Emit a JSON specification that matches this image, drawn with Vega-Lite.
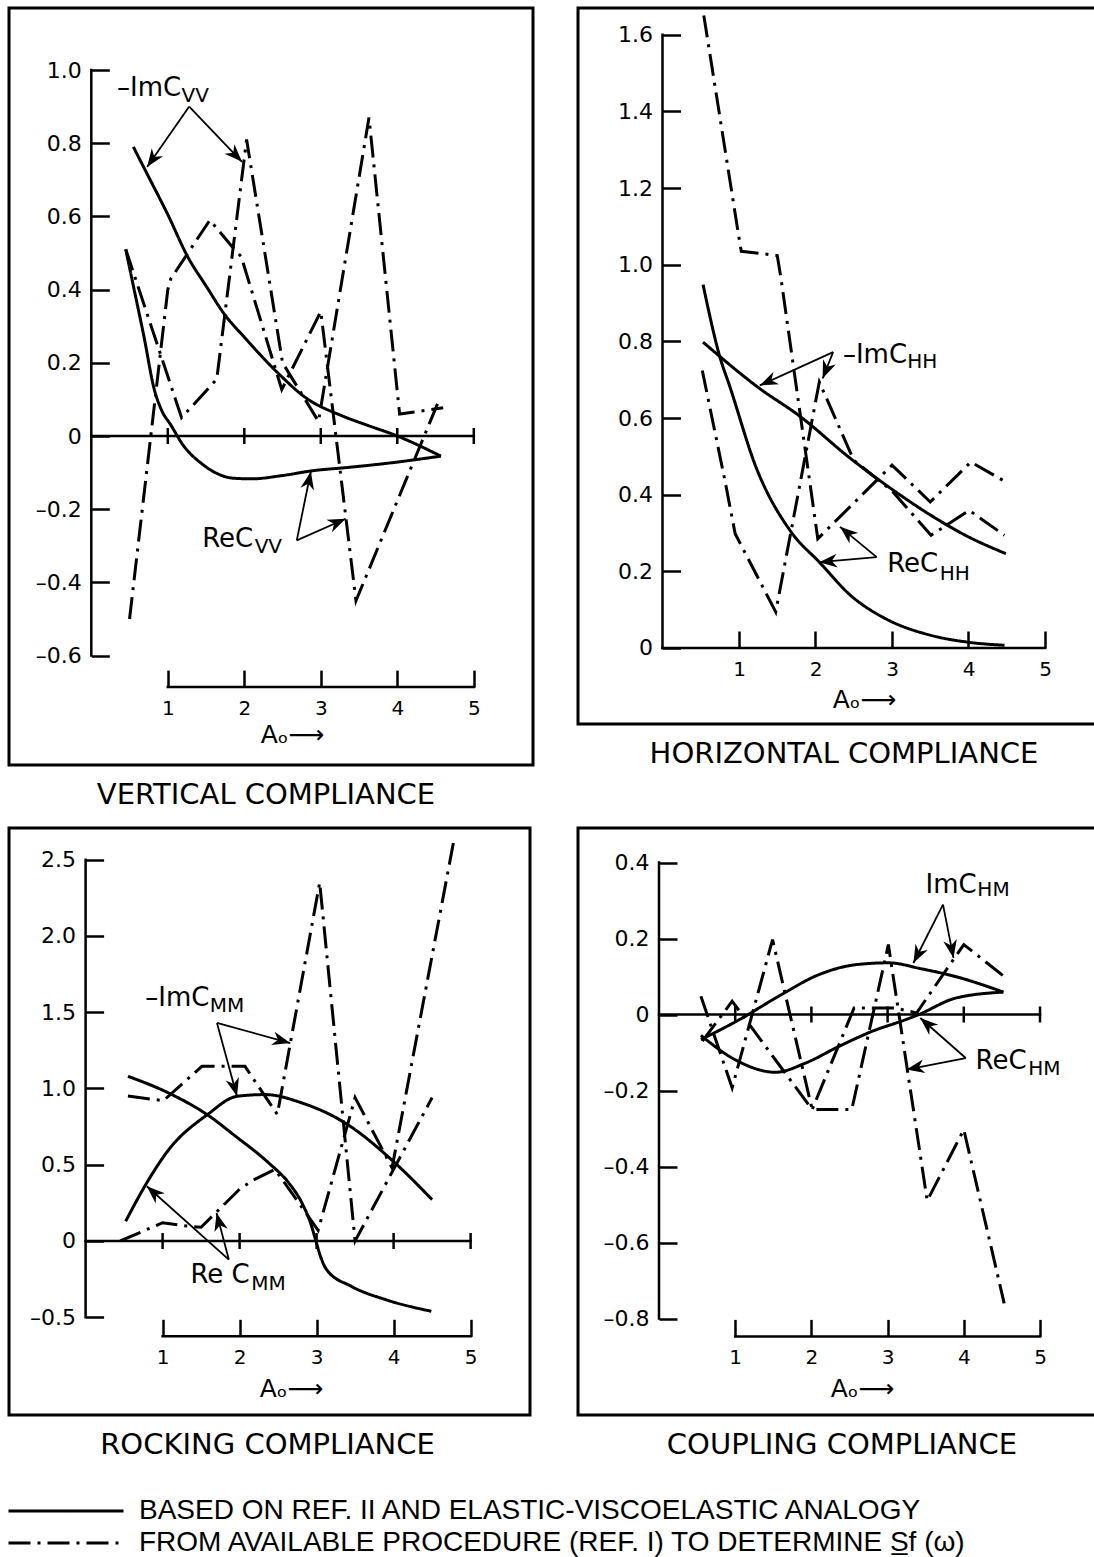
{
  "$schema": "https://vega.github.io/schema/vega-lite/v6.json",
  "background": "white",
  "padding": {"left": 7, "top": 6, "right": 0, "bottom": 0},
  "config": {
    "font": "DejaVu Sans",
    "view": {"stroke": "black", "strokeWidth": 3},
    "line": {"color": "black", "strokeWidth": 3},
    "rule": {"color": "black"},
    "text": {"color": "black"},
    "axis": {
      "grid": false, "domain": false, "tickColor": "black", "tickWidth": 2.5,
      "labelColor": "black", "labelFont": "DejaVu Sans", "labelFontSize": 22,
      "labelFlush": false, "labelOverlap": false, "labelBound": false,
      "titleColor": "black", "titleFont": "DejaVu Sans", "titleFontSize": 25, "titleFontWeight": "normal"
    },
    "title": {"font": "DejaVu Sans", "fontSize": 29, "fontWeight": "normal", "orient": "bottom", "offset": 16, "color": "black", "anchor": "middle"},
    "legend": {
      "orient": "none", "direction": "vertical", "symbolType": "stroke", "symbolSize": 13225,
      "symbolStrokeWidth": 3, "symbolStrokeColor": "black", "clipHeight": 30, "rowPadding": 2,
      "labelFont": "Liberation Sans", "labelFontSize": 28, "labelLimit": 1200, "labelOffset": 14,
      "labelColor": "black", "padding": 0
    }
  },
  "datasets": {
    "curves": [
      {"panel":"V","curve":"ImVV","method":"analogy","Ao":0.55,"C":0.79},
      {"panel":"V","curve":"ImVV","method":"analogy","Ao":0.72,"C":0.72},
      {"panel":"V","curve":"ImVV","method":"analogy","Ao":1.0,"C":0.605},
      {"panel":"V","curve":"ImVV","method":"analogy","Ao":1.26,"C":0.49},
      {"panel":"V","curve":"ImVV","method":"analogy","Ao":1.5,"C":0.41},
      {"panel":"V","curve":"ImVV","method":"analogy","Ao":1.75,"C":0.33},
      {"panel":"V","curve":"ImVV","method":"analogy","Ao":2.0,"C":0.27},
      {"panel":"V","curve":"ImVV","method":"analogy","Ao":2.45,"C":0.17},
      {"panel":"V","curve":"ImVV","method":"analogy","Ao":2.8,"C":0.105},
      {"panel":"V","curve":"ImVV","method":"analogy","Ao":3.28,"C":0.055},
      {"panel":"V","curve":"ImVV","method":"analogy","Ao":3.6,"C":0.03},
      {"panel":"V","curve":"ImVV","method":"analogy","Ao":4.0,"C":0.0},
      {"panel":"V","curve":"ImVV","method":"analogy","Ao":4.57,"C":-0.055},
      {"panel":"V","curve":"ReVV","method":"analogy","Ao":0.45,"C":0.51},
      {"panel":"V","curve":"ReVV","method":"analogy","Ao":0.57,"C":0.39},
      {"panel":"V","curve":"ReVV","method":"analogy","Ao":0.69,"C":0.27},
      {"panel":"V","curve":"ReVV","method":"analogy","Ao":0.82,"C":0.13},
      {"panel":"V","curve":"ReVV","method":"analogy","Ao":0.92,"C":0.07},
      {"panel":"V","curve":"ReVV","method":"analogy","Ao":1.04,"C":0.03},
      {"panel":"V","curve":"ReVV","method":"analogy","Ao":1.2,"C":-0.025},
      {"panel":"V","curve":"ReVV","method":"analogy","Ao":1.44,"C":-0.075},
      {"panel":"V","curve":"ReVV","method":"analogy","Ao":1.65,"C":-0.103},
      {"panel":"V","curve":"ReVV","method":"analogy","Ao":1.84,"C":-0.115},
      {"panel":"V","curve":"ReVV","method":"analogy","Ao":2.1,"C":-0.117},
      {"panel":"V","curve":"ReVV","method":"analogy","Ao":2.5,"C":-0.108},
      {"panel":"V","curve":"ReVV","method":"analogy","Ao":2.89,"C":-0.095},
      {"panel":"V","curve":"ReVV","method":"analogy","Ao":3.4,"C":-0.085},
      {"panel":"V","curve":"ReVV","method":"analogy","Ao":3.85,"C":-0.075},
      {"panel":"V","curve":"ReVV","method":"analogy","Ao":4.57,"C":-0.055},
      {"panel":"V","curve":"ImVV","method":"procedure","Ao":0.45,"C":0.51},
      {"panel":"V","curve":"ImVV","method":"procedure","Ao":1.18,"C":0.05},
      {"panel":"V","curve":"ImVV","method":"procedure","Ao":1.64,"C":0.155},
      {"panel":"V","curve":"ImVV","method":"procedure","Ao":2.03,"C":0.81},
      {"panel":"V","curve":"ImVV","method":"procedure","Ao":2.5,"C":0.2},
      {"panel":"V","curve":"ImVV","method":"procedure","Ao":2.97,"C":0.04},
      {"panel":"V","curve":"ImVV","method":"procedure","Ao":3.63,"C":0.87},
      {"panel":"V","curve":"ImVV","method":"procedure","Ao":4.03,"C":0.06},
      {"panel":"V","curve":"ImVV","method":"procedure","Ao":4.6,"C":0.077},
      {"panel":"V","curve":"ReVV","method":"procedure","Ao":0.5,"C":-0.5},
      {"panel":"V","curve":"ReVV","method":"procedure","Ao":1.0,"C":0.4},
      {"panel":"V","curve":"ReVV","method":"procedure","Ao":1.04,"C":0.43},
      {"panel":"V","curve":"ReVV","method":"procedure","Ao":1.55,"C":0.59},
      {"panel":"V","curve":"ReVV","method":"procedure","Ao":1.83,"C":0.52},
      {"panel":"V","curve":"ReVV","method":"procedure","Ao":1.96,"C":0.49},
      {"panel":"V","curve":"ReVV","method":"procedure","Ao":2.49,"C":0.127},
      {"panel":"V","curve":"ReVV","method":"procedure","Ao":3.0,"C":0.34},
      {"panel":"V","curve":"ReVV","method":"procedure","Ao":3.46,"C":-0.45},
      {"panel":"V","curve":"ReVV","method":"procedure","Ao":4.55,"C":0.1},

      {"panel":"H","curve":"ImHH","method":"analogy","Ao":0.53,"C":0.798},
      {"panel":"H","curve":"ImHH","method":"analogy","Ao":1.27,"C":0.677},
      {"panel":"H","curve":"ImHH","method":"analogy","Ao":1.78,"C":0.607},
      {"panel":"H","curve":"ImHH","method":"analogy","Ao":2.46,"C":0.494},
      {"panel":"H","curve":"ImHH","method":"analogy","Ao":3.05,"C":0.407},
      {"panel":"H","curve":"ImHH","method":"analogy","Ao":3.51,"C":0.346},
      {"panel":"H","curve":"ImHH","method":"analogy","Ao":3.96,"C":0.294},
      {"panel":"H","curve":"ImHH","method":"analogy","Ao":4.49,"C":0.246},
      {"panel":"H","curve":"ReHH","method":"analogy","Ao":0.53,"C":0.948},
      {"panel":"H","curve":"ReHH","method":"analogy","Ao":0.77,"C":0.746},
      {"panel":"H","curve":"ReHH","method":"analogy","Ao":0.86,"C":0.694},
      {"panel":"H","curve":"ReHH","method":"analogy","Ao":1.23,"C":0.468},
      {"panel":"H","curve":"ReHH","method":"analogy","Ao":1.68,"C":0.303},
      {"panel":"H","curve":"ReHH","method":"analogy","Ao":2.05,"C":0.224},
      {"panel":"H","curve":"ReHH","method":"analogy","Ao":2.46,"C":0.137},
      {"panel":"H","curve":"ReHH","method":"analogy","Ao":2.92,"C":0.076},
      {"panel":"H","curve":"ReHH","method":"analogy","Ao":3.51,"C":0.033},
      {"panel":"H","curve":"ReHH","method":"analogy","Ao":3.96,"C":0.016},
      {"panel":"H","curve":"ReHH","method":"analogy","Ao":4.47,"C":0.007},
      {"panel":"H","curve":"ImHH","method":"procedure","Ao":0.52,"C":0.724},
      {"panel":"H","curve":"ImHH","method":"procedure","Ao":0.82,"C":0.433},
      {"panel":"H","curve":"ImHH","method":"procedure","Ao":0.95,"C":0.298},
      {"panel":"H","curve":"ImHH","method":"procedure","Ao":1.48,"C":0.094},
      {"panel":"H","curve":"ImHH","method":"procedure","Ao":2.05,"C":0.694},
      {"panel":"H","curve":"ImHH","method":"procedure","Ao":2.5,"C":0.49},
      {"panel":"H","curve":"ImHH","method":"procedure","Ao":3.0,"C":0.41},
      {"panel":"H","curve":"ImHH","method":"procedure","Ao":3.51,"C":0.294},
      {"panel":"H","curve":"ImHH","method":"procedure","Ao":4.01,"C":0.359},
      {"panel":"H","curve":"ImHH","method":"procedure","Ao":4.47,"C":0.294},
      {"panel":"H","curve":"ReHH","method":"procedure","Ao":0.54,"C":1.65},
      {"panel":"H","curve":"ReHH","method":"procedure","Ao":1.0,"C":1.07},
      {"panel":"H","curve":"ReHH","method":"procedure","Ao":1.03,"C":1.035},
      {"panel":"H","curve":"ReHH","method":"procedure","Ao":1.5,"C":1.024},
      {"panel":"H","curve":"ReHH","method":"procedure","Ao":1.55,"C":0.963},
      {"panel":"H","curve":"ReHH","method":"procedure","Ao":2.03,"C":0.285},
      {"panel":"H","curve":"ReHH","method":"procedure","Ao":3.0,"C":0.477},
      {"panel":"H","curve":"ReHH","method":"procedure","Ao":3.5,"C":0.381},
      {"panel":"H","curve":"ReHH","method":"procedure","Ao":4.03,"C":0.485},
      {"panel":"H","curve":"ReHH","method":"procedure","Ao":4.49,"C":0.433},

      {"panel":"M","curve":"ReMM","method":"analogy","Ao":0.55,"C":1.08},
      {"panel":"M","curve":"ReMM","method":"analogy","Ao":1.08,"C":0.97},
      {"panel":"M","curve":"ReMM","method":"analogy","Ao":1.58,"C":0.828},
      {"panel":"M","curve":"ReMM","method":"analogy","Ao":1.95,"C":0.686},
      {"panel":"M","curve":"ReMM","method":"analogy","Ao":2.38,"C":0.511},
      {"panel":"M","curve":"ReMM","method":"analogy","Ao":2.64,"C":0.38},
      {"panel":"M","curve":"ReMM","method":"analogy","Ao":2.81,"C":0.249},
      {"panel":"M","curve":"ReMM","method":"analogy","Ao":2.92,"C":0.12},
      {"panel":"M","curve":"ReMM","method":"analogy","Ao":2.98,"C":0.02},
      {"panel":"M","curve":"ReMM","method":"analogy","Ao":3.05,"C":-0.1},
      {"panel":"M","curve":"ReMM","method":"analogy","Ao":3.13,"C":-0.188},
      {"panel":"M","curve":"ReMM","method":"analogy","Ao":3.45,"C":-0.297},
      {"panel":"M","curve":"ReMM","method":"analogy","Ao":3.9,"C":-0.385},
      {"panel":"M","curve":"ReMM","method":"analogy","Ao":4.49,"C":-0.461},
      {"panel":"M","curve":"ImMM","method":"analogy","Ao":0.52,"C":0.129},
      {"panel":"M","curve":"ImMM","method":"analogy","Ao":0.78,"C":0.369},
      {"panel":"M","curve":"ImMM","method":"analogy","Ao":1.08,"C":0.599},
      {"panel":"M","curve":"ImMM","method":"analogy","Ao":1.58,"C":0.828},
      {"panel":"M","curve":"ImMM","method":"analogy","Ao":1.97,"C":0.949},
      {"panel":"M","curve":"ImMM","method":"analogy","Ao":2.33,"C":0.96},
      {"panel":"M","curve":"ImMM","method":"analogy","Ao":2.81,"C":0.905},
      {"panel":"M","curve":"ImMM","method":"analogy","Ao":3.37,"C":0.774},
      {"panel":"M","curve":"ImMM","method":"analogy","Ao":4.02,"C":0.511},
      {"panel":"M","curve":"ImMM","method":"analogy","Ao":4.5,"C":0.271},
      {"panel":"M","curve":"ReMM","method":"procedure","Ao":0.45,"C":0.0},
      {"panel":"M","curve":"ReMM","method":"procedure","Ao":1.0,"C":0.12},
      {"panel":"M","curve":"ReMM","method":"procedure","Ao":1.27,"C":0.1},
      {"panel":"M","curve":"ReMM","method":"procedure","Ao":1.5,"C":0.09},
      {"panel":"M","curve":"ReMM","method":"procedure","Ao":1.68,"C":0.18},
      {"panel":"M","curve":"ReMM","method":"procedure","Ao":2.0,"C":0.34},
      {"panel":"M","curve":"ReMM","method":"procedure","Ao":2.18,"C":0.4},
      {"panel":"M","curve":"ReMM","method":"procedure","Ao":2.46,"C":0.47},
      {"panel":"M","curve":"ReMM","method":"procedure","Ao":3.02,"C":0.07},
      {"panel":"M","curve":"ReMM","method":"procedure","Ao":3.5,"C":0.94},
      {"panel":"M","curve":"ReMM","method":"procedure","Ao":3.98,"C":0.48},
      {"panel":"M","curve":"ReMM","method":"procedure","Ao":4.78,"C":2.62},
      {"panel":"M","curve":"ImMM","method":"procedure","Ao":0.55,"C":0.95},
      {"panel":"M","curve":"ImMM","method":"procedure","Ao":1.01,"C":0.92},
      {"panel":"M","curve":"ImMM","method":"procedure","Ao":1.51,"C":1.145},
      {"panel":"M","curve":"ImMM","method":"procedure","Ao":2.07,"C":1.145},
      {"panel":"M","curve":"ImMM","method":"procedure","Ao":2.49,"C":0.83},
      {"panel":"M","curve":"ImMM","method":"procedure","Ao":3.04,"C":2.35},
      {"panel":"M","curve":"ImMM","method":"procedure","Ao":3.5,"C":0.0},
      {"panel":"M","curve":"ImMM","method":"procedure","Ao":4.5,"C":0.94},

      {"panel":"HM","curve":"ImHM","method":"analogy","Ao":0.55,"C":-0.066},
      {"panel":"HM","curve":"ImHM","method":"analogy","Ao":1.05,"C":-0.014},
      {"panel":"HM","curve":"ImHM","method":"analogy","Ao":1.57,"C":0.048},
      {"panel":"HM","curve":"ImHM","method":"analogy","Ao":2.1,"C":0.105},
      {"panel":"HM","curve":"ImHM","method":"analogy","Ao":2.58,"C":0.131},
      {"panel":"HM","curve":"ImHM","method":"analogy","Ao":3.01,"C":0.136},
      {"panel":"HM","curve":"ImHM","method":"analogy","Ao":3.45,"C":0.12},
      {"panel":"HM","curve":"ImHM","method":"analogy","Ao":3.89,"C":0.1},
      {"panel":"HM","curve":"ImHM","method":"analogy","Ao":4.52,"C":0.059},
      {"panel":"HM","curve":"ReHM","method":"analogy","Ao":0.55,"C":-0.055},
      {"panel":"HM","curve":"ReHM","method":"analogy","Ao":1.0,"C":-0.119},
      {"panel":"HM","curve":"ReHM","method":"analogy","Ao":1.53,"C":-0.152},
      {"panel":"HM","curve":"ReHM","method":"analogy","Ao":1.92,"C":-0.128},
      {"panel":"HM","curve":"ReHM","method":"analogy","Ao":2.36,"C":-0.084},
      {"panel":"HM","curve":"ReHM","method":"analogy","Ao":2.8,"C":-0.044},
      {"panel":"HM","curve":"ReHM","method":"analogy","Ao":3.23,"C":-0.014},
      {"panel":"HM","curve":"ReHM","method":"analogy","Ao":3.41,"C":0.0},
      {"panel":"HM","curve":"ReHM","method":"analogy","Ao":3.89,"C":0.043},
      {"panel":"HM","curve":"ReHM","method":"analogy","Ao":4.52,"C":0.059},
      {"panel":"HM","curve":"ImHM","method":"procedure","Ao":0.57,"C":-0.07},
      {"panel":"HM","curve":"ImHM","method":"procedure","Ao":0.96,"C":0.035},
      {"panel":"HM","curve":"ImHM","method":"procedure","Ao":2.01,"C":-0.25},
      {"panel":"HM","curve":"ImHM","method":"procedure","Ao":2.56,"C":0.017},
      {"panel":"HM","curve":"ImHM","method":"procedure","Ao":3.1,"C":0.017},
      {"panel":"HM","curve":"ImHM","method":"procedure","Ao":3.38,"C":0.004},
      {"panel":"HM","curve":"ImHM","method":"procedure","Ao":4.0,"C":0.184},
      {"panel":"HM","curve":"ImHM","method":"procedure","Ao":4.53,"C":0.1},
      {"panel":"HM","curve":"ReHM","method":"procedure","Ao":0.55,"C":0.048},
      {"panel":"HM","curve":"ReHM","method":"procedure","Ao":0.96,"C":-0.193},
      {"panel":"HM","curve":"ReHM","method":"procedure","Ao":1.49,"C":0.197},
      {"panel":"HM","curve":"ReHM","method":"procedure","Ao":2.01,"C":-0.25},
      {"panel":"HM","curve":"ReHM","method":"procedure","Ao":2.53,"C":-0.25},
      {"panel":"HM","curve":"ReHM","method":"procedure","Ao":3.01,"C":0.184},
      {"panel":"HM","curve":"ReHM","method":"procedure","Ao":3.52,"C":-0.49},
      {"panel":"HM","curve":"ReHM","method":"procedure","Ao":4.0,"C":-0.303},
      {"panel":"HM","curve":"ReHM","method":"procedure","Ao":4.53,"C":-0.76}
    ],
    "guides": [
      {"panel":"V","Ao":0,"Ao2":0,"C":-0.6,"C2":1.0},
      {"panel":"V","Ao":0,"Ao2":5,"C":0,"C2":0},
      {"panel":"V","Ao":1,"Ao2":5,"C":-0.686,"C2":-0.686},
      {"panel":"H","Ao":0,"Ao2":0,"C":0,"C2":1.6},
      {"panel":"H","Ao":0,"Ao2":5,"C":0,"C2":0},
      {"panel":"M","Ao":0,"Ao2":0,"C":-0.5,"C2":2.5},
      {"panel":"M","Ao":0,"Ao2":5,"C":0,"C2":0},
      {"panel":"M","Ao":1,"Ao2":5,"C":-0.625,"C2":-0.625},
      {"panel":"HM","Ao":0,"Ao2":0,"C":-0.8,"C2":0.4},
      {"panel":"HM","Ao":0,"Ao2":5,"C":0,"C2":0},
      {"panel":"HM","Ao":1,"Ao2":5,"C":-0.847,"C2":-0.847}
    ],
    "zeroTicks": [
      {"panel":"V","Ao":1},{"panel":"V","Ao":2},{"panel":"V","Ao":3},{"panel":"V","Ao":4},{"panel":"V","Ao":5},
      {"panel":"M","Ao":1},{"panel":"M","Ao":2},{"panel":"M","Ao":3},{"panel":"M","Ao":4},{"panel":"M","Ao":5},
      {"panel":"HM","Ao":1},{"panel":"HM","Ao":2},{"panel":"HM","Ao":3},{"panel":"HM","Ao":4},{"panel":"HM","Ao":5}
    ],
    "arrows": [
      {"panel":"V","fromAo":1.28,"fromC":0.9,"toAo":0.729,"toC":0.735,"dir":-145},
      {"panel":"V","fromAo":1.28,"fromC":0.9,"toAo":1.97,"toC":0.749,"dir":136},
      {"panel":"V","fromAo":2.686,"fromC":-0.285,"toAo":2.87,"toC":-0.097,"dir":11.5},
      {"panel":"V","fromAo":2.686,"fromC":-0.285,"toAo":3.325,"toC":-0.226,"dir":66},
      {"panel":"H","fromAo":2.23,"fromC":0.772,"toAo":1.272,"toC":0.685,"dir":-114},
      {"panel":"H","fromAo":2.23,"fromC":0.772,"toAo":2.093,"toC":0.703,"dir":-158},
      {"panel":"H","fromAo":2.8,"fromC":0.237,"toAo":2.32,"toC":0.316,"dir":-50.5},
      {"panel":"H","fromAo":2.8,"fromC":0.237,"toAo":2.048,"toC":0.224,"dir":-95},
      {"panel":"M","fromAo":1.706,"fromC":1.43,"toAo":2.658,"toC":1.298,"dir":105},
      {"panel":"M","fromAo":1.706,"fromC":1.43,"toAo":1.966,"toC":0.949,"dir":165},
      {"panel":"M","fromAo":1.86,"fromC":-0.122,"toAo":0.795,"toC":0.359,"dir":-48},
      {"panel":"M","fromAo":1.86,"fromC":-0.122,"toAo":1.701,"toC":0.184,"dir":-14.6},
      {"panel":"HM","fromAo":3.727,"fromC":0.289,"toAo":3.339,"toC":0.1355,"dir":-153},
      {"panel":"HM","fromAo":3.727,"fromC":0.289,"toAo":3.865,"toC":0.149,"dir":169},
      {"panel":"HM","fromAo":4.025,"fromC":-0.1145,"toAo":3.429,"toC":-0.0092,"dir":-48.6},
      {"panel":"HM","fromAo":4.025,"fromC":-0.1145,"toAo":3.247,"toC":-0.145,"dir":-101}
    ],
    "notes": [
      {"panel":"V","role":"main","text":"–ImC","Ao":0.336,"C":0.952},
      {"panel":"V","role":"sub","text":"VV","Ao":1.18,"C":0.928},
      {"panel":"V","role":"main","text":"ReC","Ao":1.45,"C":-0.281},
      {"panel":"V","role":"sub","text":"VV","Ao":2.135,"C":-0.303},
      {"panel":"H","role":"main","text":"–ImC","Ao":2.358,"C":0.764},
      {"panel":"H","role":"sub","text":"HH","Ao":3.2,"C":0.745},
      {"panel":"H","role":"main","text":"ReC","Ao":2.937,"C":0.22},
      {"panel":"H","role":"sub","text":"HH","Ao":3.625,"C":0.194},
      {"panel":"M","role":"main","text":"–ImC","Ao":0.775,"C":1.593},
      {"panel":"M","role":"sub","text":"MM","Ao":1.612,"C":1.543},
      {"panel":"M","role":"main","text":"Re C","Ao":1.361,"C":-0.221},
      {"panel":"M","role":"sub","text":"MM","Ao":2.152,"C":-0.28},
      {"panel":"HM","role":"main","text":"ImC","Ao":3.499,"C":0.342},
      {"panel":"HM","role":"sub","text":"HM","Ao":4.178,"C":0.327},
      {"panel":"HM","role":"main","text":"ReC","Ao":4.154,"C":-0.123},
      {"panel":"HM","role":"sub","text":"HM","Ao":4.845,"C":-0.143}
    ]
  },
  "vconcat": [
    {
      "spacing": 41,
      "hconcat": [
        {
          "width": 524, "height": 757,
          "title": {"text": "VERTICAL COMPLIANCE", "dx": -5},
          "layer": [
            {
              "data": {"name": "curves"},
              "transform": [{"filter": "datum.panel === 'V' && datum.method === 'analogy'"}],
              "mark": {"type": "line", "interpolate": "monotone"},
              "encoding": {
                "x": {"field": "Ao", "type": "quantitative",
                  "scale": {"domain": [-1.0758, 5.7739], "nice": false, "zero": false},
                  "axis": {"values": [1,2,3,4,5], "format": "d", "offset": -77.9, "tickSize": -17, "labelPadding": 28, "labelFontSize": 20,
                    "title": "Aₒ⟶", "titleX": 283, "titleY": 47, "titleAlign": "center", "titleBaseline": "middle"}},
                "y": {"field": "C", "type": "quantitative",
                  "scale": {"domain": [-0.8989, 1.1694], "nice": false, "zero": false},
                  "axis": {"values": [-0.6,-0.4,-0.2,0,0.2,0.4,0.6,0.8,1.0], "offset": -82.3, "tickSize": -18, "labelPadding": 28, "title": null,
                    "labelExpr": "datum.value == 0 ? '0' : (datum.value < 0 ? '–' : '') + format(abs(datum.value), '.1f')"}},
                "detail": {"field": "curve", "type": "nominal"},
                "strokeDash": {"field": "method", "type": "nominal",
                  "scale": {"domain": ["analogy", "procedure"], "range": [[1, 0], [22, 7, 3, 7]]},
                  "legend": {"title": null, "orient": "none", "legendX": -2, "legendY": 1488,
                    "labelExpr": "datum.value === 'analogy' ? 'BASED ON REF. II AND ELASTIC-VISCOELASTIC ANALOGY' : 'FROM AVAILABLE PROCEDURE (REF. I) TO DETERMINE S̲f (ω)'"}}
              }
            },
            {
              "data": {"name": "curves"},
              "transform": [{"filter": "datum.panel === 'V' && datum.method === 'procedure'"}],
              "mark": {"type": "line"},
              "encoding": {
                "x": {"field": "Ao", "type": "quantitative"},
                "y": {"field": "C", "type": "quantitative"},
                "detail": {"field": "curve", "type": "nominal"},
                "strokeDash": {"field": "method", "type": "nominal"}
              }
            },
            {
              "data": {"name": "guides"},
              "transform": [{"filter": "datum.panel === 'V'"}],
              "mark": {"type": "rule", "strokeWidth": 2.5, "strokeCap": "square"},
              "encoding": {
                "x": {"field": "Ao", "type": "quantitative"}, "x2": {"field": "Ao2"},
                "y": {"field": "C", "type": "quantitative"}, "y2": {"field": "C2"}
              }
            },
            {
              "data": {"name": "zeroTicks"},
              "transform": [{"filter": "datum.panel === 'V'"}],
              "mark": {"type": "rule", "strokeWidth": 2.5, "yOffset": 8, "y2Offset": -8},
              "encoding": {
                "x": {"field": "Ao", "type": "quantitative"},
                "y": {"datum": 0, "type": "quantitative"}, "y2": {"datum": 0}
              }
            },
            {
              "data": {"name": "arrows"},
              "transform": [{"filter": "datum.panel === 'V'"}],
              "mark": {"type": "rule", "strokeWidth": 1.8},
              "encoding": {
                "x": {"field": "fromAo", "type": "quantitative"}, "x2": {"field": "toAo"},
                "y": {"field": "fromC", "type": "quantitative"}, "y2": {"field": "toC"}
              }
            },
            {
              "data": {"name": "arrows"},
              "transform": [{"filter": "datum.panel === 'V'"}],
              "mark": {"type": "point", "shape": "M0,0L-0.38,1L0,0.7L0.38,1Z", "filled": true, "size": 1300, "color": "black", "opacity": 1},
              "encoding": {
                "x": {"field": "toAo", "type": "quantitative"},
                "y": {"field": "toC", "type": "quantitative"},
                "angle": {"field": "dir", "type": "quantitative", "scale": null}
              }
            },
            {
              "data": {"name": "notes"},
              "transform": [{"filter": "datum.panel === 'V' && datum.role === 'main'"}],
              "mark": {"type": "text", "align": "left", "baseline": "middle", "fontSize": 26},
              "encoding": {
                "x": {"field": "Ao", "type": "quantitative"},
                "y": {"field": "C", "type": "quantitative"},
                "text": {"field": "text"}
              }
            },
            {
              "data": {"name": "notes"},
              "transform": [{"filter": "datum.panel === 'V' && datum.role === 'sub'"}],
              "mark": {"type": "text", "align": "left", "baseline": "middle", "fontSize": 20},
              "encoding": {
                "x": {"field": "Ao", "type": "quantitative"},
                "y": {"field": "C", "type": "quantitative"},
                "text": {"field": "text"}
              }
            }
          ]
        },
        {
          "width": 518, "height": 716,
          "title": {"text": "HORIZONTAL COMPLIANCE", "dx": 7},
          "layer": [
            {
              "data": {"name": "curves"},
              "transform": [{"filter": "datum.panel === 'H' && datum.method === 'analogy'"}],
              "mark": {"type": "line", "interpolate": "monotone"},
              "encoding": {
                "x": {"field": "Ao", "type": "quantitative",
                  "scale": {"domain": [-1.1046, 5.6667], "nice": false, "zero": false},
                  "axis": {"values": [1,2,3,4,5], "format": "d", "offset": -76, "tickSize": -17, "labelPadding": 28, "labelFontSize": 20,
                    "title": "Aₒ⟶", "titleX": 286, "titleY": 51, "titleAlign": "center", "titleBaseline": "middle"}},
                "y": {"field": "C", "type": "quantitative",
                  "scale": {"domain": [-0.1983, 1.6697], "nice": false, "zero": false},
                  "axis": {"values": [0,0.2,0.4,0.6,0.8,1.0,1.2,1.4,1.6], "offset": -84.5, "tickSize": -18, "labelPadding": 28, "title": null,
                    "labelExpr": "datum.value == 0 ? '0' : (datum.value < 0 ? '–' : '') + format(abs(datum.value), '.1f')"}},
                "detail": {"field": "curve", "type": "nominal"},
                "strokeDash": {"field": "method", "type": "nominal",
                  "scale": {"domain": ["analogy", "procedure"], "range": [[1, 0], [22, 7, 3, 7]]},
                  "legend": {"title": null, "orient": "none", "legendX": -2, "legendY": 1488,
                    "labelExpr": "datum.value === 'analogy' ? 'BASED ON REF. II AND ELASTIC-VISCOELASTIC ANALOGY' : 'FROM AVAILABLE PROCEDURE (REF. I) TO DETERMINE S̲f (ω)'"}}
              }
            },
            {
              "data": {"name": "curves"},
              "transform": [{"filter": "datum.panel === 'H' && datum.method === 'procedure'"}],
              "mark": {"type": "line"},
              "encoding": {
                "x": {"field": "Ao", "type": "quantitative"},
                "y": {"field": "C", "type": "quantitative"},
                "detail": {"field": "curve", "type": "nominal"},
                "strokeDash": {"field": "method", "type": "nominal"}
              }
            },
            {
              "data": {"name": "guides"},
              "transform": [{"filter": "datum.panel === 'H'"}],
              "mark": {"type": "rule", "strokeWidth": 2.5, "strokeCap": "square"},
              "encoding": {
                "x": {"field": "Ao", "type": "quantitative"}, "x2": {"field": "Ao2"},
                "y": {"field": "C", "type": "quantitative"}, "y2": {"field": "C2"}
              }
            },
            {
              "data": {"name": "arrows"},
              "transform": [{"filter": "datum.panel === 'H'"}],
              "mark": {"type": "rule", "strokeWidth": 1.8},
              "encoding": {
                "x": {"field": "fromAo", "type": "quantitative"}, "x2": {"field": "toAo"},
                "y": {"field": "fromC", "type": "quantitative"}, "y2": {"field": "toC"}
              }
            },
            {
              "data": {"name": "arrows"},
              "transform": [{"filter": "datum.panel === 'H'"}],
              "mark": {"type": "point", "shape": "M0,0L-0.38,1L0,0.7L0.38,1Z", "filled": true, "size": 1300, "color": "black", "opacity": 1},
              "encoding": {
                "x": {"field": "toAo", "type": "quantitative"},
                "y": {"field": "toC", "type": "quantitative"},
                "angle": {"field": "dir", "type": "quantitative", "scale": null}
              }
            },
            {
              "data": {"name": "notes"},
              "transform": [{"filter": "datum.panel === 'H' && datum.role === 'main'"}],
              "mark": {"type": "text", "align": "left", "baseline": "middle", "fontSize": 26},
              "encoding": {
                "x": {"field": "Ao", "type": "quantitative"},
                "y": {"field": "C", "type": "quantitative"},
                "text": {"field": "text"}
              }
            },
            {
              "data": {"name": "notes"},
              "transform": [{"filter": "datum.panel === 'H' && datum.role === 'sub'"}],
              "mark": {"type": "text", "align": "left", "baseline": "middle", "fontSize": 20},
              "encoding": {
                "x": {"field": "Ao", "type": "quantitative"},
                "y": {"field": "C", "type": "quantitative"},
                "text": {"field": "text"}
              }
            }
          ]
        }
      ]
    },
    {
      "spacing": 44,
      "hconcat": [
        {
          "width": 521, "height": 587,
          "title": {"text": "ROCKING COMPLIANCE", "dx": -2},
          "layer": [
            {
              "data": {"name": "curves"},
              "transform": [{"filter": "datum.panel === 'M' && datum.method === 'analogy'"}],
              "mark": {"type": "line", "interpolate": "monotone"},
              "encoding": {
                "x": {"field": "Ao", "type": "quantitative",
                  "scale": {"domain": [-0.9948, 5.7714], "nice": false, "zero": false},
                  "axis": {"values": [1,2,3,4,5], "format": "d", "offset": -78.7, "tickSize": -17, "labelPadding": 28, "labelFontSize": 20,
                    "title": "Aₒ⟶", "titleX": 282, "titleY": 52, "titleAlign": "center", "titleBaseline": "middle"}},
                "y": {"field": "C", "type": "quantitative",
                  "scale": {"domain": [-1.141, 2.708], "nice": false, "zero": false},
                  "axis": {"values": [-0.5,0,0.5,1.0,1.5,2.0,2.5], "offset": -76.6, "tickSize": -18, "labelPadding": 28, "title": null,
                    "labelExpr": "datum.value == 0 ? '0' : (datum.value < 0 ? '–' : '') + format(abs(datum.value), '.1f')"}},
                "detail": {"field": "curve", "type": "nominal"},
                "strokeDash": {"field": "method", "type": "nominal",
                  "scale": {"domain": ["analogy", "procedure"], "range": [[1, 0], [22, 7, 3, 7]]},
                  "legend": {"title": null, "orient": "none", "legendX": -2, "legendY": 1488,
                    "labelExpr": "datum.value === 'analogy' ? 'BASED ON REF. II AND ELASTIC-VISCOELASTIC ANALOGY' : 'FROM AVAILABLE PROCEDURE (REF. I) TO DETERMINE S̲f (ω)'"}}
              }
            },
            {
              "data": {"name": "curves"},
              "transform": [{"filter": "datum.panel === 'M' && datum.method === 'procedure'"}],
              "mark": {"type": "line"},
              "encoding": {
                "x": {"field": "Ao", "type": "quantitative"},
                "y": {"field": "C", "type": "quantitative"},
                "detail": {"field": "curve", "type": "nominal"},
                "strokeDash": {"field": "method", "type": "nominal"}
              }
            },
            {
              "data": {"name": "guides"},
              "transform": [{"filter": "datum.panel === 'M'"}],
              "mark": {"type": "rule", "strokeWidth": 2.5, "strokeCap": "square"},
              "encoding": {
                "x": {"field": "Ao", "type": "quantitative"}, "x2": {"field": "Ao2"},
                "y": {"field": "C", "type": "quantitative"}, "y2": {"field": "C2"}
              }
            },
            {
              "data": {"name": "zeroTicks"},
              "transform": [{"filter": "datum.panel === 'M'"}],
              "mark": {"type": "rule", "strokeWidth": 2.5, "yOffset": 8, "y2Offset": -8},
              "encoding": {
                "x": {"field": "Ao", "type": "quantitative"},
                "y": {"datum": 0, "type": "quantitative"}, "y2": {"datum": 0}
              }
            },
            {
              "data": {"name": "arrows"},
              "transform": [{"filter": "datum.panel === 'M'"}],
              "mark": {"type": "rule", "strokeWidth": 1.8},
              "encoding": {
                "x": {"field": "fromAo", "type": "quantitative"}, "x2": {"field": "toAo"},
                "y": {"field": "fromC", "type": "quantitative"}, "y2": {"field": "toC"}
              }
            },
            {
              "data": {"name": "arrows"},
              "transform": [{"filter": "datum.panel === 'M'"}],
              "mark": {"type": "point", "shape": "M0,0L-0.38,1L0,0.7L0.38,1Z", "filled": true, "size": 1300, "color": "black", "opacity": 1},
              "encoding": {
                "x": {"field": "toAo", "type": "quantitative"},
                "y": {"field": "toC", "type": "quantitative"},
                "angle": {"field": "dir", "type": "quantitative", "scale": null}
              }
            },
            {
              "data": {"name": "notes"},
              "transform": [{"filter": "datum.panel === 'M' && datum.role === 'main'"}],
              "mark": {"type": "text", "align": "left", "baseline": "middle", "fontSize": 26},
              "encoding": {
                "x": {"field": "Ao", "type": "quantitative"},
                "y": {"field": "C", "type": "quantitative"},
                "text": {"field": "text"}
              }
            },
            {
              "data": {"name": "notes"},
              "transform": [{"filter": "datum.panel === 'M' && datum.role === 'sub'"}],
              "mark": {"type": "text", "align": "left", "baseline": "middle", "fontSize": 20},
              "encoding": {
                "x": {"field": "Ao", "type": "quantitative"},
                "y": {"field": "C", "type": "quantitative"},
                "text": {"field": "text"}
              }
            }
          ]
        },
        {
          "width": 518, "height": 587,
          "title": {"text": "COUPLING COMPLIANCE", "dx": 5},
          "layer": [
            {
              "data": {"name": "curves"},
              "transform": [{"filter": "datum.panel === 'HM' && datum.method === 'analogy'"}],
              "mark": {"type": "line", "interpolate": "monotone"},
              "encoding": {
                "x": {"field": "Ao", "type": "quantitative",
                  "scale": {"domain": [-1.063, 5.735], "nice": false, "zero": false},
                  "axis": {"values": [1,2,3,4,5], "format": "d", "offset": -78.6, "tickSize": -17, "labelPadding": 28, "labelFontSize": 20,
                    "title": "Aₒ⟶", "titleX": 284, "titleY": 52, "titleAlign": "center", "titleBaseline": "middle"}},
                "y": {"field": "C", "type": "quantitative",
                  "scale": {"domain": [-1.0539, 0.4908], "nice": false, "zero": false},
                  "axis": {"values": [-0.8,-0.6,-0.4,-0.2,0,0.2,0.4], "offset": -81, "tickSize": -18, "labelPadding": 28, "title": null,
                    "labelExpr": "datum.value == 0 ? '0' : (datum.value < 0 ? '–' : '') + format(abs(datum.value), '.1f')"}},
                "detail": {"field": "curve", "type": "nominal"},
                "strokeDash": {"field": "method", "type": "nominal",
                  "scale": {"domain": ["analogy", "procedure"], "range": [[1, 0], [22, 7, 3, 7]]},
                  "legend": {"title": null, "orient": "none", "legendX": -2, "legendY": 1488,
                    "labelExpr": "datum.value === 'analogy' ? 'BASED ON REF. II AND ELASTIC-VISCOELASTIC ANALOGY' : 'FROM AVAILABLE PROCEDURE (REF. I) TO DETERMINE S̲f (ω)'"}}
              }
            },
            {
              "data": {"name": "curves"},
              "transform": [{"filter": "datum.panel === 'HM' && datum.method === 'procedure'"}],
              "mark": {"type": "line"},
              "encoding": {
                "x": {"field": "Ao", "type": "quantitative"},
                "y": {"field": "C", "type": "quantitative"},
                "detail": {"field": "curve", "type": "nominal"},
                "strokeDash": {"field": "method", "type": "nominal"}
              }
            },
            {
              "data": {"name": "guides"},
              "transform": [{"filter": "datum.panel === 'HM'"}],
              "mark": {"type": "rule", "strokeWidth": 2.5, "strokeCap": "square"},
              "encoding": {
                "x": {"field": "Ao", "type": "quantitative"}, "x2": {"field": "Ao2"},
                "y": {"field": "C", "type": "quantitative"}, "y2": {"field": "C2"}
              }
            },
            {
              "data": {"name": "zeroTicks"},
              "transform": [{"filter": "datum.panel === 'HM'"}],
              "mark": {"type": "rule", "strokeWidth": 2.5, "yOffset": 8, "y2Offset": -8},
              "encoding": {
                "x": {"field": "Ao", "type": "quantitative"},
                "y": {"datum": 0, "type": "quantitative"}, "y2": {"datum": 0}
              }
            },
            {
              "data": {"name": "arrows"},
              "transform": [{"filter": "datum.panel === 'HM'"}],
              "mark": {"type": "rule", "strokeWidth": 1.8},
              "encoding": {
                "x": {"field": "fromAo", "type": "quantitative"}, "x2": {"field": "toAo"},
                "y": {"field": "fromC", "type": "quantitative"}, "y2": {"field": "toC"}
              }
            },
            {
              "data": {"name": "arrows"},
              "transform": [{"filter": "datum.panel === 'HM'"}],
              "mark": {"type": "point", "shape": "M0,0L-0.38,1L0,0.7L0.38,1Z", "filled": true, "size": 1300, "color": "black", "opacity": 1},
              "encoding": {
                "x": {"field": "toAo", "type": "quantitative"},
                "y": {"field": "toC", "type": "quantitative"},
                "angle": {"field": "dir", "type": "quantitative", "scale": null}
              }
            },
            {
              "data": {"name": "notes"},
              "transform": [{"filter": "datum.panel === 'HM' && datum.role === 'main'"}],
              "mark": {"type": "text", "align": "left", "baseline": "middle", "fontSize": 26},
              "encoding": {
                "x": {"field": "Ao", "type": "quantitative"},
                "y": {"field": "C", "type": "quantitative"},
                "text": {"field": "text"}
              }
            },
            {
              "data": {"name": "notes"},
              "transform": [{"filter": "datum.panel === 'HM' && datum.role === 'sub'"}],
              "mark": {"type": "text", "align": "left", "baseline": "middle", "fontSize": 20},
              "encoding": {
                "x": {"field": "Ao", "type": "quantitative"},
                "y": {"field": "C", "type": "quantitative"},
                "text": {"field": "text"}
              }
            }
          ]
        }
      ]
    }
  ],
  "spacing": 14
}
